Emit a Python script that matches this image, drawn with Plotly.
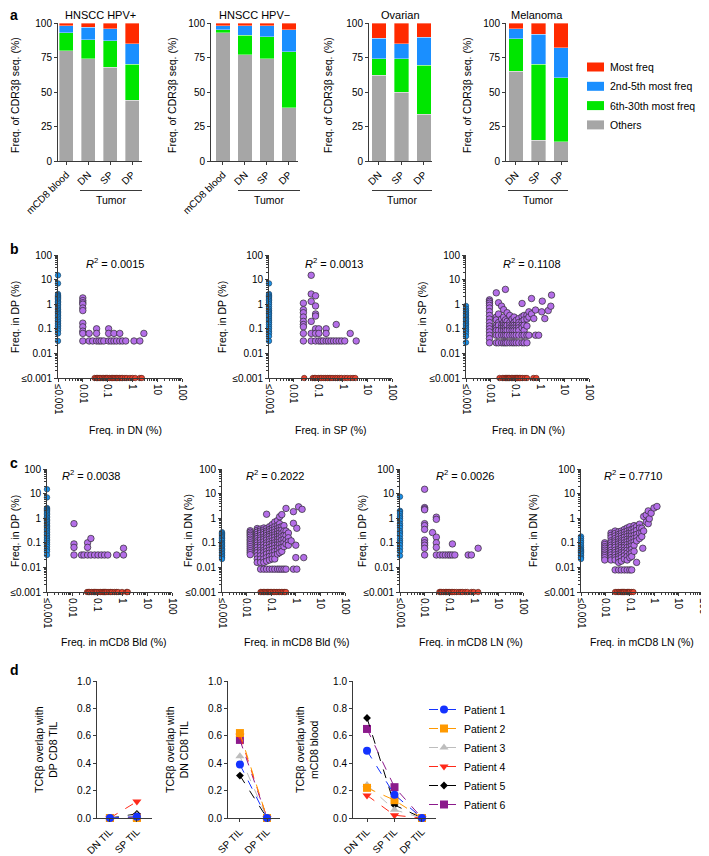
import plotly.graph_objects as go

W, H = 709, 856
# the page body adds an 8 px margin; positions below are in window pixels
OX, OY = 8, 8
FONT = 'Liberation Sans, Arial, Helvetica, sans-serif'
AXC = '#3a3a3a'

# ---------------- panel a: share of CDR3b reads by clonotype rank (%) ----------------
bin_names = ['Others', '6th-30th most freq', '2nd-5th most freq', 'Most freq']
bin_colors = ['#a6a6a6', '#00e600', '#1a8fff', '#ff2a00']

hpvpos_groups = ['mCD8 blood', 'DN', 'SP', 'DP']
hpvpos_others = [80, 74, 68, 44]
hpvpos_6_30 = [13, 14, 19, 26]
hpvpos_2_5 = [5, 9, 9, 15]
hpvpos_top = [2, 3, 4, 15]

hpvneg_groups = ['mCD8 blood', 'DN', 'SP', 'DP']
hpvneg_others = [93, 77, 74, 38.5]
hpvneg_6_30 = [2, 14, 16, 40.5]
hpvneg_2_5 = [3, 7, 8, 16]
hpvneg_top = [2, 2, 2, 5]

ovarian_groups = ['DN', 'SP', 'DP']
ovarian_others = [62, 50, 34]
ovarian_6_30 = [12, 24, 35.5]
ovarian_2_5 = [15, 11, 20]
ovarian_top = [11, 15, 10.5]

melanoma_groups = ['DN', 'SP', 'DP']
melanoma_others = [65, 15, 14]
melanoma_6_30 = [23.5, 55, 46.5]
melanoma_2_5 = [7.5, 22, 21.5]
melanoma_top = [4, 8, 18]

# ---------------- panels b, c: clonotype frequencies (%) ----------------
# blue = only in y population (x <= 0.001), red = only in x population (y <= 0.001)
# purple = shared clonotypes, given as {x: [y, ...]}
b1_blue = [15, 7, 2.6, 2.3, 2.1, 1.9, 1.7, 1.5, 1.3, 1.15, 1.0, 0.85, 0.7, 0.6, 0.52, 0.45,
           0.4, 0.35, 0.3, 0.26, 0.22, 0.19, 0.16, 0.14, 0.12, 0.1, 0.085, 0.065, 0.032]
b1_red = [0.03, 0.035, 0.04, 0.045, 0.05, 0.06, 0.07, 0.08, 0.09, 0.1, 0.12, 0.14, 0.16, 0.18,
          0.2, 0.23, 0.26, 0.3, 0.35, 0.4, 0.5, 0.6, 0.8, 1.0, 1.3, 2.0, 2.4]
b1_purple = {0.01: [1.8, 1.4, 1.15, 1.0, 0.7, 0.55, 0.17, 0.12, 0.08, 0.065, 0.032],
             0.018: [0.065, 0.032], 0.025: [0.032], 0.036: [0.1, 0.065, 0.032], 0.045: [0.032],
             0.055: [0.032], 0.07: [0.032], 0.11: [0.1, 0.065, 0.032], 0.14: [0.032],
             0.18: [0.065, 0.032], 0.23: [0.032], 0.31: [0.065, 0.032], 0.4: [0.032],
             0.54: [0.032], 1.16: [0.032], 2.0: [0.032], 2.9: [0.065]}

b2_blue = [7, 2.6, 2.3, 2.0, 1.8, 1.6, 1.4, 1.2, 1.0, 0.8, 0.65, 0.55, 0.48, 0.42, 0.36, 0.3,
           0.25, 0.21, 0.18, 0.15, 0.12, 0.1, 0.08, 0.065, 0.05, 0.032]
b2_red = [0.027, 0.06, 0.07, 0.08, 0.1, 0.12, 0.14, 0.17, 0.2, 0.24, 0.28, 0.33, 0.4, 0.5,
          0.6, 0.75, 0.9, 1.2, 1.5, 2.0, 2.6, 3.2]
b2_purple = {0.025: [1.1, 0.6, 0.45, 0.3, 0.2, 0.15, 0.12, 0.065, 0.032],
             0.052: [15, 2.6, 1.3, 0.2, 0.065, 0.032],
             0.078: [2.2, 0.85, 0.4, 0.33, 0.1, 0.065, 0.032],
             0.106: [0.1, 0.065, 0.032], 0.13: [0.032], 0.16: [0.032],
             0.21: [0.1, 0.065, 0.032], 0.26: [0.032], 0.33: [0.032], 0.42: [0.032],
             0.54: [0.15, 0.032], 0.7: [0.032], 0.9: [0.032], 1.2: [0.032],
             2.0: [0.065], 3.5: [0.032]}

b3_blue = [0.85, 0.65, 0.55, 0.47, 0.4, 0.35, 0.3, 0.26, 0.23, 0.2, 0.17, 0.15, 0.13, 0.11,
           0.095, 0.08, 0.065, 0.05, 0.028]
b3_red = [0.023, 0.03, 0.035, 0.04, 0.045, 0.05, 0.055, 0.06, 0.07, 0.08, 0.09, 0.1, 0.11,
          0.12, 0.13, 0.15, 0.17, 0.2, 0.25, 0.3, 0.55, 0.72]
b3_purple = {0.009: [1.5, 1.3, 1.1, 0.9, 0.7, 0.5, 0.35, 0.25, 0.18, 0.13, 0.1, 0.075, 0.055, 0.04, 0.027],
             0.017: [2.9, 0.3, 0.23, 0.14, 0.11, 0.086, 0.055, 0.027],
             0.021: [1.15, 0.4, 0.18, 0.14, 0.086, 0.055, 0.027],
             0.028: [0.83, 0.25, 0.14, 0.11, 0.086, 0.055, 0.027],
             0.034: [0.6, 0.3, 0.18, 0.14, 0.11, 0.086, 0.055, 0.027],
             0.04: [4.0, 0.23, 0.14, 0.11, 0.086, 0.055, 0.027],
             0.047: [0.45, 0.2, 0.14, 0.086, 0.055, 0.027],
             0.06: [0.35, 0.18, 0.14, 0.11, 0.086, 0.055, 0.027],
             0.075: [0.25, 0.14, 0.11, 0.086, 0.055, 0.027],
             0.09: [0.3, 0.18, 0.14, 0.11, 0.086, 0.055, 0.027],
             0.11: [0.22, 0.14, 0.11, 0.086, 0.055, 0.027],
             0.14: [0.26, 0.18, 0.14, 0.11, 0.086, 0.055, 0.027],
             0.19: [1.07, 0.31, 0.2, 0.14, 0.11, 0.055, 0.027],
             0.23: [0.35, 0.23, 0.14, 0.086, 0.055, 0.027],
             0.3: [0.36, 0.25, 0.13, 0.055, 0.027],
             0.36: [0.49, 0.3, 0.055], 0.46: [1.7, 0.4], 0.57: [0.26], 0.67: [0.58, 0.055],
             0.9: [0.055], 1.2: [0.49], 1.26: [1.33], 1.6: [0.26], 2.2: [0.55], 2.8: [0.83],
             3.0: [2.35]}

c1_blue = [15, 7, 2.6, 2.4, 2.2, 2.0, 1.8, 1.6, 1.4, 1.2, 1.05, 0.9, 0.8, 0.7, 0.6, 0.52, 0.45,
           0.4, 0.35, 0.3, 0.26, 0.22, 0.19, 0.16, 0.14, 0.12, 0.1, 0.085, 0.07, 0.055, 0.045, 0.032]
c1_red = [0.04, 0.045, 0.05, 0.06, 0.07, 0.08, 0.09, 0.1, 0.12, 0.14, 0.16, 0.18, 0.2, 0.22,
          0.25, 0.3, 0.35, 0.4, 0.5, 0.6, 0.7, 1.0, 1.5, 1.7]
c1_purple = {0.012: [0.6, 0.09, 0.065, 0.032], 0.024: [0.032], 0.03: [0.032],
             0.042: [0.1, 0.065, 0.032], 0.057: [0.15, 0.032], 0.08: [0.032], 0.11: [0.032],
             0.15: [0.032], 0.2: [0.032], 0.27: [0.032], 0.61: [0.032], 1.15: [0.06, 0.032]}

c2_blue = [0.27, 0.24, 0.21, 0.19, 0.17, 0.15, 0.13, 0.12, 0.1, 0.09, 0.08, 0.07, 0.06, 0.053,
           0.047, 0.04, 0.035, 0.03, 0.026, 0.022]
c2_red = [0.037, 0.042, 0.048, 0.055, 0.062, 0.07, 0.08, 0.09, 0.1, 0.12, 0.14, 0.16, 0.19,
          0.22, 0.26, 0.3, 0.35, 0.4]
c2_purple = {0.014: [0.31, 0.27, 0.23, 0.2, 0.17, 0.14, 0.12, 0.1, 0.085, 0.07, 0.058, 0.048, 0.04, 0.033],
             0.027: [0.38, 0.32, 0.27, 0.22, 0.18, 0.15, 0.12, 0.1, 0.08, 0.065, 0.05, 0.04, 0.03, 0.022, 0.016],
             0.037: [0.36, 0.3, 0.25, 0.2, 0.16, 0.13, 0.1, 0.08, 0.065, 0.05, 0.04, 0.03, 0.022, 0.016, 0.0085],
             0.05: [0.4, 0.33, 0.27, 0.22, 0.17, 0.14, 0.11, 0.085, 0.065, 0.05, 0.04, 0.03, 0.022, 0.016, 0.0085],
             0.065: [1.45, 0.38, 0.3, 0.25, 0.2, 0.16, 0.13, 0.1, 0.08, 0.06, 0.045, 0.035, 0.025, 0.018, 0.0085],
             0.085: [0.45, 0.35, 0.28, 0.22, 0.18, 0.14, 0.11, 0.085, 0.065, 0.05, 0.038, 0.028, 0.02, 0.0085],
             0.11: [0.55, 0.4, 0.32, 0.25, 0.2, 0.16, 0.12, 0.095, 0.075, 0.055, 0.04, 0.03, 0.022, 0.0085],
             0.14: [0.7, 0.45, 0.35, 0.27, 0.21, 0.17, 0.13, 0.1, 0.08, 0.06, 0.045, 0.032, 0.022, 0.0085],
             0.18: [0.8, 0.5, 0.38, 0.3, 0.23, 0.18, 0.14, 0.11, 0.085, 0.065, 0.048, 0.035, 0.0085],
             0.22: [1.15, 0.6, 0.42, 0.32, 0.25, 0.19, 0.15, 0.11, 0.085, 0.06, 0.04, 0.0085],
             0.27: [1.4, 0.45, 0.33, 0.24, 0.18, 0.13, 0.09, 0.065, 0.045, 0.0085],
             0.33: [0.5, 0.3, 0.2, 0.14, 0.1, 0.07, 0.0085],
             0.4: [2.5, 0.3, 0.2, 0.13, 0.09, 0.0085],
             0.5: [0.25, 0.16, 0.11, 0.08], 0.65: [0.12], 0.8: [1.85, 0.62, 0.0085],
             1.0: [0.08, 0.025], 1.1: [0.39, 0.0085], 1.3: [2.9], 1.8: [2.3], 2.1: [0.025]}

c3_blue = [7.5, 2.0, 1.8, 1.5, 1.2, 1.0, 0.8, 0.6, 0.5, 0.4, 0.3, 0.25, 0.2, 0.15, 0.12, 0.1,
           0.08, 0.06, 0.045, 0.03]
c3_red = [0.04, 0.045, 0.05, 0.06, 0.07, 0.08, 0.09, 0.1, 0.12, 0.14, 0.16, 0.2, 0.25, 0.3,
          0.35, 0.45, 0.55, 0.8, 1.0, 1.5]
c3_purple = {0.01: [15, 2.7, 2.4, 2.2, 0.6, 0.5, 0.35, 0.13, 0.1, 0.08, 0.06, 0.032],
             0.021: [0.26], 0.03: [1.1, 0.9, 0.17, 0.1, 0.065, 0.032],
             0.042: [0.032], 0.055: [0.032], 0.07: [0.032], 0.09: [0.032], 0.11: [0.032],
             0.135: [0.09, 0.032], 0.17: [0.032], 0.59: [0.032], 0.8: [0.032], 1.5: [0.06]}

c4_blue = [0.18, 0.15, 0.12, 0.1, 0.08, 0.065, 0.055, 0.05, 0.045, 0.04, 0.035, 0.03, 0.025, 0.022]
c4_red = [0.025, 0.03, 0.035, 0.04, 0.045, 0.05, 0.055, 0.06, 0.07, 0.08, 0.09, 0.1, 0.12, 0.14]
c4_purple = {0.0094: [0.1, 0.085, 0.07, 0.06, 0.05, 0.042, 0.035, 0.03, 0.025, 0.02],
             0.017: [0.25, 0.2, 0.16, 0.12, 0.1, 0.08, 0.065, 0.05, 0.04, 0.032, 0.025, 0.02],
             0.025: [0.3, 0.24, 0.19, 0.15, 0.12, 0.1, 0.08, 0.065, 0.05, 0.04, 0.032, 0.025, 0.02, 0.0079],
             0.035: [0.28, 0.22, 0.18, 0.14, 0.11, 0.09, 0.07, 0.055, 0.045, 0.035, 0.028, 0.022, 0.016, 0.0079],
             0.045: [0.3, 0.24, 0.19, 0.15, 0.12, 0.1, 0.08, 0.065, 0.05, 0.04, 0.032, 0.025, 0.018, 0.0079],
             0.06: [0.35, 0.27, 0.21, 0.17, 0.13, 0.1, 0.08, 0.065, 0.05, 0.04, 0.03, 0.022, 0.0079],
             0.078: [0.4, 0.3, 0.23, 0.18, 0.14, 0.11, 0.085, 0.065, 0.05, 0.038, 0.028, 0.02, 0.0079],
             0.1: [0.45, 0.33, 0.26, 0.2, 0.15, 0.12, 0.09, 0.07, 0.05, 0.035, 0.025, 0.0079],
             0.12: [0.34, 0.25, 0.19, 0.14, 0.1, 0.075, 0.055, 0.04, 0.028, 0.0079],
             0.15: [0.5, 0.38, 0.28, 0.2, 0.15, 0.11, 0.08, 0.045],
             0.19: [0.46, 0.32, 0.22, 0.16, 0.12, 0.016],
             0.25: [0.57, 0.4, 0.25, 0.15], 0.31: [0.39, 0.26, 0.18], 0.34: [0.06],
             0.37: [1.17, 0.3], 0.47: [1.36, 0.7], 0.57: [1.98, 0.6], 0.63: [0.95],
             0.75: [1.6], 0.98: [2.6], 1.3: [3.0]}

# ---------------- panel d: TCRb overlap ----------------
patients = ['Patient 1', 'Patient 2', 'Patient 3', 'Patient 4', 'Patient 5', 'Patient 6']
pat_colors = ['#1433ff', '#ff9900', '#bdbdbd', '#ff2a1a', '#000000', '#8c1a8c']
pat_symbols = ['circle', 'square', 'triangle-up', 'triangle-down', 'diamond', 'square']
pat_sizes = [8, 8, 8, 8, 6, 8]

d1_groups = ['DN TIL', 'SP TIL']
d1_overlap = [[0, 0.01], [0, 0.0], [0, 0.02], [0, 0.12], [0, 0.03], [0, 0.005]]
d2_groups = ['SP TIL', 'DP TIL']
d2_overlap = [[0.39, 0], [0.62, 0], [0.45, 0], [0.6, 0], [0.31, 0], [0.57, 0]]
d3_groups = ['DN TIL', 'SP TIL', 'DP TIL']
d3_overlap = [[0.49, 0.17, 0], [0.22, 0.13, 0], [0.24, 0.06, 0], [0.165, 0.02, 0],
              [0.73, 0.095, 0], [0.65, 0.225, 0]]

# ---------------------------------------------------------------------
fig = go.Figure()
annotations = []
shapes = []


def fx(px):
    return (px - OX) / W


def fy(py):
    return 1 - (py - OY) / H


def ids(n):
    s = '' if n == 1 else str(n)
    return 'x' + s, 'y' + s, 'xaxis' + s, 'yaxis' + s


def base_axis():
    return dict(showline=True, linecolor=AXC, linewidth=1, ticks='outside', ticklen=3,
                tickwidth=1, tickcolor=AXC, showgrid=False, zeroline=False, automargin=False,
                tickfont=dict(size=10, color='black'))


def add_axes(n, left, right, top, bottom, xopt, yopt):
    xr, yr, xk, yk = ids(n)
    xa = base_axis()
    xa.update(domain=[fx(left), fx(right)], anchor=yr)
    xa.update(xopt)
    ya = base_axis()
    ya.update(domain=[fy(bottom), fy(top)], anchor=xr)
    ya.update(yopt)
    fig.update_layout({xk: xa, yk: ya})
    return xr, yr


def text(x, y, s, size=10.5, angle=0, bold=False, xanchor='center'):
    annotations.append(dict(x=fx(x), y=fy(y), xref='paper', yref='paper', text=s,
                            showarrow=False, textangle=angle, xanchor=xanchor, yanchor='middle',
                            font=dict(size=size, color='black',
                                      weight='bold' if bold else 'normal')))


# ---- panel a
a_panels = [
    ('HNSCC HPV+', hpvpos_groups, [hpvpos_others, hpvpos_6_30, hpvpos_2_5, hpvpos_top],
     (58, 142), [-0.38, 3.45], 15, (80, 142)),
    ('HNSCC HPV\u2212', hpvneg_groups, [hpvneg_others, hpvneg_6_30, hpvneg_2_5, hpvneg_top],
     (211, 298), [-0.545, 3.41], 172, (238, 300)),
    ('Ovarian', ovarian_groups, [ovarian_others, ovarian_6_30, ovarian_2_5, ovarian_top],
     (369, 432), [-0.44, 2.36], 328, (372, 432)),
    ('Melanoma', melanoma_groups, [melanoma_others, melanoma_6_30, melanoma_2_5, melanoma_top],
     (506, 568), [-0.44, 2.31], 467, (508, 568)),
]
for i, (title, groups, series, (l, r), xrange_, ytx, (t0, t1)) in enumerate(a_panels):
    n = i + 1
    xr, yr = add_axes(n, l, r, 23, 161,
                      dict(range=xrange_, tickmode='array', tickvals=list(range(len(groups))),
                           ticktext=groups, tickangle=-45),
                      dict(range=[0, 100], tickmode='array', tickvals=[0, 25, 50, 75, 100]))
    for name, col, vals in zip(bin_names, bin_colors, series):
        fig.add_trace(go.Bar(x=list(range(len(groups))), y=vals, name=name, marker_color=col,
                             marker_line=dict(color='rgba(255,255,255,0.6)', width=0.6),
                             width=0.64, xaxis=xr, yaxis=yr, showlegend=False,
                             hoverinfo='skip'))
    text((l + r) / 2, 15, title, size=11)
    text(ytx, 95, 'Freq. of CDR3\u03b2 seq. (%)', size=10.5, angle=-90)
    shapes.append(dict(type='line', xref='paper', yref='paper', x0=fx(t0), x1=fx(t1),
                       y0=fy(190.5), y1=fy(190.5), line=dict(color=AXC, width=1)))
    text((t0 + t1) / 2, 200, 'Tumor', size=10.5)

# legend of panel a (swatches + labels), top entry first
for k, (name, col) in enumerate(zip(reversed(bin_names), reversed(bin_colors))):
    yc = 67 + k * 19.3
    shapes.append(dict(type='rect', xref='paper', yref='paper', x0=fx(587), x1=fx(604),
                       y0=fy(yc + 4.5), y1=fy(yc - 4.5), fillcolor=col, line=dict(width=0)))
    text(608, yc, name, size=10.5, xanchor='left')

# ---- panels b and c
log_vals = [0.001, 0.01, 0.1, 1, 10, 100]
log_text = ['\u22640.001', '0.01', '0.1', '1', '10', '100']
minor_vals = [m * 10.0 ** e for e in range(-3, 2) for m in range(2, 10)]


def log_axis(angle):
    return dict(type='log', range=[-3, 2], tickmode='array', tickvals=log_vals,
                ticktext=log_text, tickangle=angle,
                minor=dict(tickmode='array', tickvals=minor_vals, ticks='outside', ticklen=2,
                           tickcolor=AXC, tickwidth=1, showgrid=False))


PURPLE = '#b46ee8'
BLUE = '#1a8fe6'
RED = '#e8432f'


def scatter_panel(n, left, right, top, bottom, blue_y, red_x, purple):
    xr, yr = add_axes(n, left, right, top, bottom, log_axis(90), log_axis(0))
    px_, py_ = [], []
    for xv, ys in purple.items():
        for yv in ys:
            px_.append(xv)
            py_.append(yv)
    fig.add_trace(go.Scatter(x=px_, y=py_, mode='markers', xaxis=xr, yaxis=yr,
                             marker=dict(size=6.5, color=PURPLE, line=dict(color='#2b2b2b', width=0.7)),
                             showlegend=False, cliponaxis=False, hoverinfo='skip'))
    fig.add_trace(go.Scatter(x=[0.001] * len(blue_y), y=blue_y, mode='markers', xaxis=xr, yaxis=yr,
                             marker=dict(size=5.5, color=BLUE, line=dict(color='#1b3550', width=0.6)),
                             showlegend=False, cliponaxis=False, hoverinfo='skip'))
    fig.add_trace(go.Scatter(x=red_x, y=[0.001] * len(red_x), mode='markers', xaxis=xr, yaxis=yr,
                             marker=dict(size=5.5, color=RED, line=dict(color='#4a1a10', width=0.6)),
                             showlegend=False, cliponaxis=False, hoverinfo='skip'))


scatter_panel(5, 58, 182, 255, 378, b1_blue, b1_red, b1_purple)
scatter_panel(6, 269, 392, 255, 378, b2_blue, b2_red, b2_purple)
scatter_panel(7, 466, 589, 255, 378, b3_blue, b3_red, b3_purple)
scatter_panel(8, 47, 172, 469, 592, c1_blue, c1_red, c1_purple)
scatter_panel(9, 222, 345, 469, 592, c2_blue, c2_red, c2_purple)
scatter_panel(10, 400, 523, 469, 592, c3_blue, c3_red, c3_purple)
scatter_panel(11, 581, 703, 469, 592, c4_blue, c4_red, c4_purple)

r2 = '<i>R</i><sup>2</sup> = '
text(115, 263, r2 + '0.0015', size=11)
text(334, 263, r2 + '0.0013', size=11)
text(532, 263, r2 + '0.1108', size=11)
text(91, 475, r2 + '0.0038', size=11)
text(275, 475, r2 + '0.2022', size=11)
text(465, 475, r2 + '0.0026', size=11)
text(633, 475, r2 + '0.7710', size=11)

text(125, 430, 'Freq. in DN (%)')
text(331, 430, 'Freq. in SP (%)')
text(528, 430, 'Freq. in DN (%)')
text(15, 317, 'Freq. in DP (%)', angle=-90)
text(222, 317, 'Freq. in DP (%)', angle=-90)
text(422, 317, 'Freq. in SP (%)', angle=-90)

text(114, 642, 'Freq. in mCD8 Bld (%)')
text(297, 642, 'Freq. in mCD8 Bld (%)')
text(471, 642, 'Freq. in mCD8 LN (%)')
text(642, 642, 'Freq. in mCD8 LN (%)')
text(15, 531, 'Freq. in DP (%)', angle=-90)
text(188, 531, 'Freq. in DN (%)', angle=-90)
text(362, 531, 'Freq. in DP (%)', angle=-90)
text(533, 531, 'Freq. in DN (%)', angle=-90)

# ---- panel d
d_panels = [
    (12, (97, 152), [-0.48, 1.56], d1_groups, d1_overlap, 46, 'TCR\u03b2 overlap with<br>DP CD8 TIL'),
    (13, (228, 280), [-0.44, 1.48], d2_groups, d2_overlap, 177, 'TCR\u03b2 overlap with<br>DN CD8 TIL'),
    (14, (353, 436), [-0.51, 2.51], d3_groups, d3_overlap, 307, 'TCR\u03b2 overlap with<br>mCD8 blood'),
]
for k, (n, (l, r), xrange_, groups, overlap, ytx, ytitle) in enumerate(d_panels):
    xr, yr = add_axes(n, l, r, 681, 818,
                      dict(range=xrange_, tickmode='array', tickvals=list(range(len(groups))),
                           ticktext=groups, tickangle=-45),
                      dict(range=[0, 1.0], tickmode='array', tickvals=[0, 0.2, 0.4, 0.6, 0.8, 1.0],
                           tickformat='.1f'))
    for p in reversed(range(len(patients))):
        fig.add_trace(go.Scatter(x=list(range(len(groups))), y=overlap[p], mode='lines+markers',
                                 name=patients[p], xaxis=xr, yaxis=yr,
                                 line=dict(color=pat_colors[p], width=1, dash='dash'),
                                 marker=dict(symbol=pat_symbols[p], size=pat_sizes[p],
                                             color=pat_colors[p]),
                                 showlegend=(k == 0), cliponaxis=False, hoverinfo='skip'))
    text(ytx, 750, ytitle, size=10.5, angle=-90)

# ---- panel letters
text(8, 15, 'a', size=14, bold=True, xanchor='left')
text(8, 249, 'b', size=14, bold=True, xanchor='left')
text(8, 463, 'c', size=14, bold=True, xanchor='left')
text(8, 670, 'd', size=14, bold=True, xanchor='left')

fig.update_layout(
    width=W, height=H, margin=dict(l=0, r=0, t=0, b=0, pad=0, autoexpand=False),
    paper_bgcolor='white', plot_bgcolor='white', barmode='stack',
    font=dict(family=FONT, size=10, color='black'),
    annotations=annotations, shapes=shapes, showlegend=True,
    legend=dict(x=fx(424), y=fy(695), xanchor='left', yanchor='top', traceorder='reversed',
                font=dict(size=10.5), bgcolor='rgba(0,0,0,0)', tracegroupgap=0),
)

fig.write_html("out.html")
